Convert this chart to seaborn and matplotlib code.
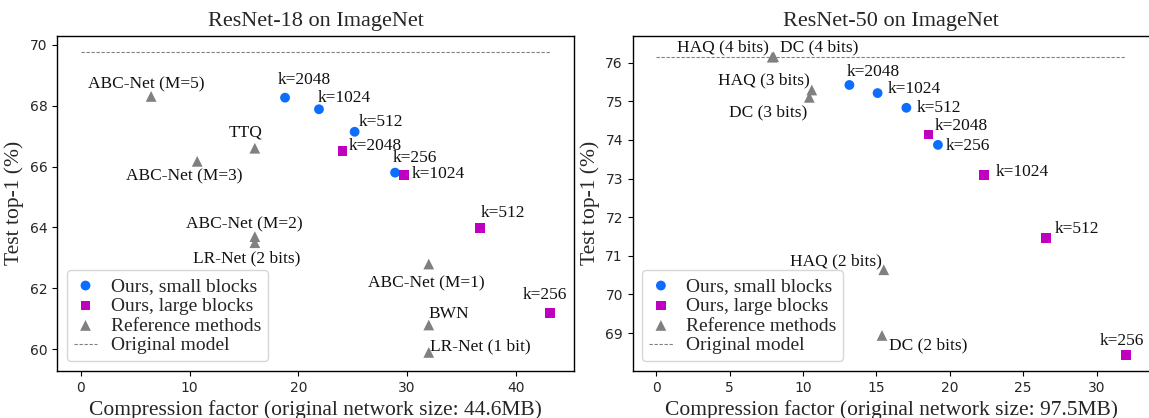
import matplotlib
matplotlib.use("Agg")
import matplotlib.pyplot as plt
import seaborn as sns
import pandas as pd

# ---------------- data ----------------
# ResNet-18 panel
r18_small_x = [18.78, 21.9, 25.18, 28.9]
r18_small_y = [68.26, 67.88, 67.14, 65.80]
r18_small_lbl = ["k=2048", "k=1024", "k=512", "k=256"]
r18_large_x = [24.06, 29.74, 36.7, 43.14]
r18_large_y = [66.51, 65.73, 63.99, 61.2]
r18_large_lbl = ["k=2048", "k=1024", "k=512", "k=256"]
r18_ref_x = [6.46, 16.0, 10.7, 16.0, 16.0, 32.0, 32.0, 32.0]
r18_ref_y = [68.30, 66.6, 66.17, 63.7, 63.5, 62.8, 60.8, 59.9]
r18_ref_lbl = ["ABC-Net (M=5)", "TTQ", "ABC-Net (M=3)", "ABC-Net (M=2)",
               "LR-Net (2 bits)", "ABC-Net (M=1)", "BWN", "LR-Net (1 bit)"]
r18_orig = 69.76

# ResNet-50 panel
r50_small_x = [13.16, 15.08, 17.04, 19.19]
r50_small_y = [75.42, 75.21, 74.83, 73.87]
r50_small_lbl = ["k=2048", "k=1024", "k=512", "k=256"]
r50_large_x = [18.55, 22.35, 26.56, 32.0]
r50_large_y = [74.14, 73.09, 71.46, 68.43]
r50_large_lbl = ["k=2048", "k=1024", "k=512", "k=256"]
r50_ref_x = [7.9, 8.0, 10.6, 10.43, 15.5, 15.38]
r50_ref_y = [76.14, 76.15, 75.29, 75.10, 70.64, 68.94]
r50_ref_lbl = ["HAQ (4 bits)", "DC (4 bits)", "HAQ (3 bits)", "DC (3 bits)",
               "HAQ (2 bits)", "DC (2 bits)"]
r50_orig = 76.15

titles = ["ResNet-18 on ImageNet", "ResNet-50 on ImageNet"]
xlabels = ["Compression factor (original network size: 44.6MB)",
           "Compression factor (original network size: 97.5MB)"]
ylabel = "Test top-1 (%)"
legend_names = ["Ours, small blocks", "Ours, large blocks", "Reference methods", "Original model"]

# ---------------- layout (annotation offsets in pixels: dx, dy, ha) ----------------
r18_small_off = [(-7, 14, "left"), (-1.5, 7.5, "left"), (4, 5.6, "left"), (-2.6, 11, "left")]
r18_large_off = [(6, 1, "left"), (7, -3.4, "left"), (1, 11, "left"), (-5, 13.4, "center")]
r18_ref_off = [(-5, 8, "center"), (-9, 12, "center"), (-13, -19, "center"), (-11, 8, "center"),
               (-8.6, -20, "center"), (-2, -23, "center"), (0, 7, "left"), (1, 2, "left")]
r50_small_off = [(-3, 9, "left"), (10, 0, "left"), (10, -4.4, "left"), (7.7, -5, "left")]
r50_large_off = [(6, 4, "left"), (11, -1, "left"), (9, 4.7, "left"), (-3.7, 10, "center")]
r50_ref_off = [(-3, 6, "right"), (6.6, 5.5, "left"), (-2.5, 5.5, "right"), (-2, -19, "right"),
               (-2, 4.7, "right"), (6.6, -14, "left")]

BLUE = "#0d6efd"
MAG = "#c000c0"
GRAY = "#808080"

sns.set_style("ticks")
plt.rcParams["font.family"] = ["DejaVu Sans"]
SERIF = ["Liberation Serif", "DejaVu Serif"]

fig = plt.figure(figsize=(11.49, 4.18), dpi=100)
ax1 = fig.add_axes([57.3 / 1149, 47 / 418, (574 - 57.3) / 1149, (371 - 35.5) / 418])
ax2 = fig.add_axes([632.7 / 1149, 47 / 418, (1149.5 - 632.7) / 1149, (371 - 35.5) / 418])

panels = [
    (ax1, r18_small_x, r18_small_y, r18_small_lbl, r18_small_off,
     r18_large_x, r18_large_y, r18_large_lbl, r18_large_off,
     r18_ref_x, r18_ref_y, r18_ref_lbl, r18_ref_off, r18_orig,
     (-2.17, 45.36), (59.29, 70.30), [0, 10, 20, 30, 40], [60, 62, 64, 66, 68, 70]),
    (ax2, r50_small_x, r50_small_y, r50_small_lbl, r50_small_off,
     r50_large_x, r50_large_y, r50_large_lbl, r50_large_off,
     r50_ref_x, r50_ref_y, r50_ref_lbl, r50_ref_off, r50_orig,
     (-1.6, 33.6), (68.02, 76.70), [0, 5, 10, 15, 20, 25, 30], [69, 70, 71, 72, 73, 74, 75, 76]),
]

for i, (ax, sx, sy, sl, so, lx, ly, ll, lo, rx, ry, rl, ro, orig, xl, yl, xt, yt) in enumerate(panels):
    df_s = pd.DataFrame({"x": sx, "y": sy})
    df_l = pd.DataFrame({"x": lx, "y": ly})
    df_r = pd.DataFrame({"x": rx, "y": ry})
    sns.scatterplot(data=df_s, x="x", y="y", ax=ax, color=BLUE, marker="o", s=50,
                    linewidth=0, edgecolor="none", label=legend_names[0], zorder=3)
    sns.scatterplot(data=df_l, x="x", y="y", ax=ax, color=MAG, marker="s", s=50,
                    linewidth=0, edgecolor="none", label=legend_names[1], zorder=3)
    sns.scatterplot(data=df_r, x="x", y="y", ax=ax, color=GRAY, marker="^", s=60,
                    linewidth=0, edgecolor="none", label=legend_names[2], zorder=3)
    xmax = max(sx + lx + rx)
    ax.plot([0, xmax], [orig, orig], color=GRAY, linestyle=(0, (3, 1.5)), linewidth=0.8,
            label=legend_names[3], zorder=2)

    for xs, ys, lbls, offs in [(sx, sy, sl, so), (lx, ly, ll, lo), (rx, ry, rl, ro)]:
        for x, y, t, (dx, dy, ha) in zip(xs, ys, lbls, offs):
            ax.annotate(t, (x, y), xytext=(dx, dy), textcoords="offset pixels",
                        ha=ha, va="baseline", fontsize=12.5, family=SERIF, color="#111111")

    ax.set_xlim(*xl)
    ax.set_ylim(*yl)
    ax.set_xticks(xt)
    ax.set_yticks(yt)
    ax.tick_params(labelsize=10, length=3.5, width=0.8, color="black")
    ax.set_title(titles[i], fontsize=16, family=SERIF, pad=7)
    ax.set_xlabel(xlabels[i], fontsize=15.5, family=SERIF, labelpad=4)
    ax.set_ylabel(ylabel, fontsize=15.5, family=SERIF, labelpad=4)
    for sp in ax.spines.values():
        sp.set_visible(True)
        sp.set_color("black")
        sp.set_linewidth(1.0)
    ax.legend(loc="lower left", prop={"family": SERIF, "size": 14}, labelspacing=0.12,
              handlelength=1.2, handletextpad=0.7, borderpad=0.35, borderaxespad=0.5,
              framealpha=0.8, fancybox=True)

fig.savefig("out.png", dpi=100)
